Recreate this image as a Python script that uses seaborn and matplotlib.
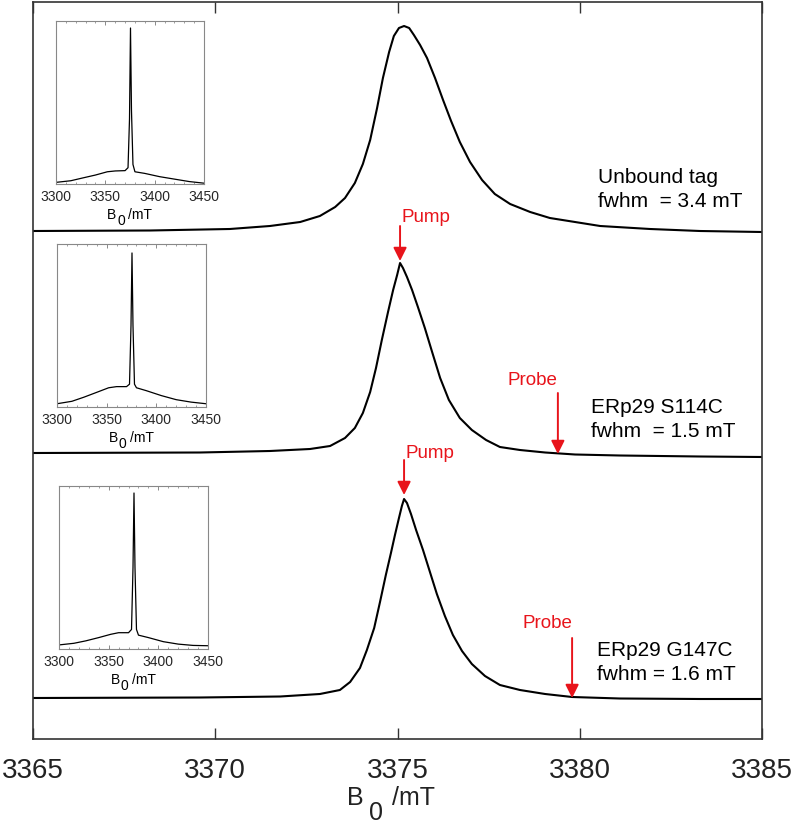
import numpy as np
import pandas as pd
import matplotlib
matplotlib.use("Agg")
import matplotlib.pyplot as plt
import seaborn as sns
from matplotlib.ticker import MultipleLocator

sns.set_theme(style="white")
plt.rcParams['font.family'] = ['Liberation Sans', 'DejaVu Sans']
plt.rcParams['mathtext.default'] = 'regular'

# ---------------- data ----------------
# Main spectra: field B0 (mT) and signal (arbitrary units, stacked)
unbound_B = [3365.00, 3368.21, 3370.40, 3371.50, 3372.33, 3372.87, 3373.29, 3373.56,
             3373.83, 3374.05, 3374.25, 3374.44, 3374.60, 3374.77, 3374.90, 3375.04,
             3375.18, 3375.32, 3375.45, 3375.62, 3375.81, 3376.03, 3376.25, 3376.47,
             3376.71, 3376.99, 3377.32, 3377.67, 3378.09, 3378.64, 3379.18, 3379.87,
             3380.56, 3381.93, 3383.30, 3385.00]
unbound_S = [508, 508.5, 510, 513, 517, 523, 532, 541,
             556, 575, 599, 631, 661, 687, 703, 711,
             713, 711, 704, 694, 681, 661, 639, 618,
             597, 577, 559, 545, 535, 527, 521, 517,
             513, 510, 508, 507]

s114c_B = [3365.00, 3369.58, 3371.50, 3372.60, 3373.15, 3373.56, 3373.83, 3374.05,
           3374.25, 3374.41, 3374.57, 3374.74, 3374.88, 3374.99, 3375.07, 3375.15,
           3375.26, 3375.40, 3375.56, 3375.75, 3375.95, 3376.17, 3376.41, 3376.71,
           3377.04, 3377.43, 3377.81, 3378.36, 3379.05, 3379.87, 3381.10, 3383.30,
           3385.00]
s114c_S = [286, 286.5, 288, 290, 293, 301, 311, 326,
           347, 371, 399, 427, 449, 464, 476, 471,
           462, 449, 432, 411, 387, 361, 339, 321,
           309, 299, 292, 289, 286.5, 284.5, 283.5, 282.5,
           282]

g147c_B = [3365.00, 3369.58, 3371.78, 3372.87, 3373.42, 3373.70, 3373.97, 3374.16,
           3374.36, 3374.52, 3374.68, 3374.82, 3374.93, 3375.04, 3375.12, 3375.18,
           3375.26, 3375.37, 3375.51, 3375.70, 3375.89, 3376.08, 3376.30, 3376.52,
           3376.77, 3377.04, 3377.40, 3377.81, 3378.36, 3379.05, 3379.79, 3381.10,
           3383.30, 3385.00]
g147c_S = [41, 41.5, 42.5, 45, 49, 57, 71, 89,
           111, 137, 164, 186, 204, 221, 233, 240,
           236, 225, 209, 189, 167, 145, 123, 104,
           88, 75, 63, 54, 49, 45, 42, 40.5,
           40, 40]

# Insets: wide-field spectra (normalised intensity)
inset_B = [3300, 3315, 3327, 3340, 3352, 3360, 3370, 3373, 3374.5, 3375.5,
           3376.5, 3378, 3380, 3390, 3405, 3420, 3435, 3450]
inset1_I = [0.010, 0.020, 0.037, 0.055, 0.075, 0.080, 0.082, 0.10, 0.40, 0.957,
            0.45, 0.12, 0.075, 0.065, 0.045, 0.030, 0.015, 0.005]
inset2_I = [0.020, 0.035, 0.060, 0.090, 0.118, 0.125, 0.125, 0.14, 0.50, 0.945,
            0.50, 0.14, 0.118, 0.100, 0.070, 0.045, 0.030, 0.020]
inset3_I = [0.025, 0.035, 0.050, 0.070, 0.090, 0.100, 0.100, 0.12, 0.50, 0.957,
            0.50, 0.12, 0.085, 0.070, 0.045, 0.030, 0.022, 0.020]

main_ticks = [3365, 3370, 3375, 3380, 3385]
inset_ticks = [3300, 3350, 3400, 3450]

sample_labels = ["Unbound tag\nfwhm  = 3.4 mT",
                 "ERp29 S114C\nfwhm  = 1.5 mT",
                 "ERp29 G147C\nfwhm = 1.6 mT"]
label_pos = [(3380.50, 549.5), (3380.31, 319.5), (3380.47, 76.5)]

# pump / probe arrows: (field, tip signal, tail signal, text x, text y)
pump_arrows = [(3375.07, 478, 513, 3375.78, 522),
               (3375.18, 244, 279, 3375.89, 286)]
probe_arrows = [(3379.40, 285, 346, 3378.69, 359),
                (3379.79, 41, 101, 3379.10, 116)]

RED = '#e8141b'
W, H = 792, 832


def b0_label(fig, x_left, y_base, fs, gap, sub_drop, after_gap, color='#222222'):
    """Write 'B', a lowered full-size '0' and '/mT' (figure pixel coords)."""
    fig.text(x_left / W, 1 - y_base / H, 'B', fontsize=fs, ha='left',
             va='baseline', color=color)
    fig.text((x_left + gap) / W, 1 - (y_base + sub_drop) / H, '0', fontsize=fs,
             ha='left', va='baseline', color=color)
    fig.text((x_left + after_gap) / W, 1 - y_base / H, '/mT', fontsize=fs,
             ha='left', va='baseline', color=color)


# ---------------- figure ----------------
fig = plt.figure(figsize=(7.92, 8.32), dpi=100)
ax = fig.add_axes([33 / W, 1 - 739 / H, 729 / W, 737 / H])

for B, S in [(unbound_B, unbound_S), (s114c_B, s114c_S), (g147c_B, g147c_S)]:
    df = pd.DataFrame({'B': B, 'S': S})
    sns.lineplot(data=df, x='B', y='S', ax=ax, color='black', linewidth=1.5,
                 estimator=None, sort=False)

ax.set_xlim(3365, 3385)
ax.set_ylim(0, 737)
ax.set_yticks([])
ax.set_xticks(main_ticks)
ax.set_xticklabels([str(t) for t in main_ticks])
ax.tick_params(axis='x', direction='in', top=True, bottom=True, length=8,
               width=1, labelsize=20, pad=14, color='#333333', labelcolor='#222222')
ax.set_ylabel('')
ax.set_xlabel('')
for sp in ax.spines.values():
    sp.set_visible(True)
    sp.set_color('#333333')
    sp.set_linewidth(1.2)

# main axis label "B0 /mT" with a large, lowered subscript
b0_label(fig, 347, 805, 18, 22, 15, 45)

for txt, (x, y) in zip(sample_labels, label_pos):
    ax.text(x, y, txt, ha='left', va='center', fontsize=15, linespacing=1.3,
            color='black')

for (bx, tip, tail, tx, ty) in pump_arrows:
    ax.annotate('', xy=(bx, tip), xytext=(bx, tail),
                arrowprops=dict(arrowstyle='-|>', color=RED, lw=1.4,
                                mutation_scale=20, shrinkA=0, shrinkB=0))
    ax.text(tx, ty, 'Pump', ha='center', va='center', fontsize=13.5, color=RED)

for (bx, tip, tail, tx, ty) in probe_arrows:
    ax.annotate('', xy=(bx, tip), xytext=(bx, tail),
                arrowprops=dict(arrowstyle='-|>', color=RED, lw=1.4,
                                mutation_scale=20, shrinkA=0, shrinkB=0))
    ax.text(tx, ty, 'Probe', ha='center', va='center', fontsize=13.5, color=RED)

# ---------------- insets ----------------
inset_px = [(56, 21, 148), (57, 244, 149), (59, 486, 149)]   # left, top, width (px)
for (lx, ty, wd), I in zip(inset_px, [inset1_I, inset2_I, inset3_I]):
    iax = fig.add_axes([lx / W, 1 - (ty + 163) / H, wd / W, 163 / H])
    dfi = pd.DataFrame({'B': inset_B, 'I': I})
    sns.lineplot(data=dfi, x='B', y='I', ax=iax, color='black', linewidth=0.9,
                 estimator=None, sort=False)
    iax.set_xlim(3300, 3450)
    iax.set_ylim(0, 1)
    iax.set_yticks([])
    iax.set_xticks(inset_ticks)
    iax.xaxis.set_minor_locator(MultipleLocator(10))
    iax.tick_params(axis='x', which='major', direction='in', top=True, bottom=True,
                    length=3, width=0.6, labelsize=10, pad=4, color='#777777')
    iax.tick_params(axis='x', which='minor', direction='in', top=True, bottom=True,
                    length=1.5, width=0.5, color='#777777')
    iax.set_ylabel('')
    iax.set_xlabel('')
    for sp in iax.spines.values():
        sp.set_visible(True)
        sp.set_color('#888888')
        sp.set_linewidth(0.8)
    cx = lx + wd / 2
    b0_label(fig, cx - 23, ty + 163 + 35, 10, 10, 6, 21, color='black')

fig.savefig('out.png', dpi=100)
